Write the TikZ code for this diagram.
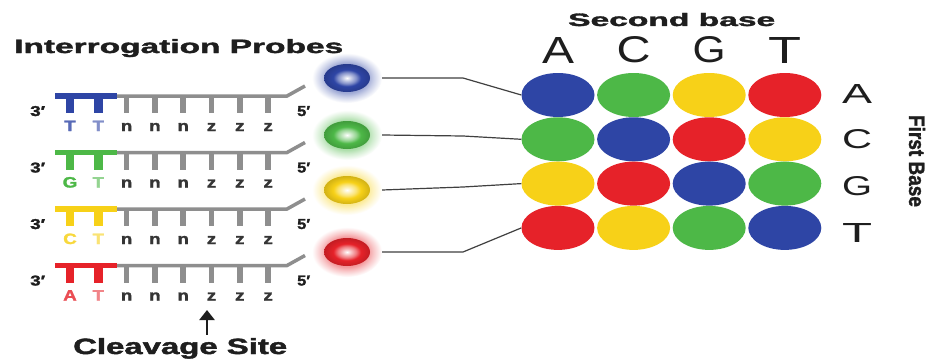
\documentclass[tikz,border=0pt]{standalone}
\usepackage{fontspec}
\setmainfont{Liberation Sans}
\newfontfamily\heavyfont{Liberation Sans}[UprightFeatures={FakeBold=1.6},BoldFeatures={FakeBold=1.6}]
\usepackage{graphicx}
\usetikzlibrary{shapes.geometric,arrows.meta}
\definecolor{cblue}{HTML}{2E45A5}
\definecolor{cgreen}{HTML}{4DB847}
\definecolor{cyellow}{HTML}{F7D118}
\definecolor{cred}{HTML}{E62229}
\definecolor{tgray}{HTML}{8E8E8E}
\definecolor{txt}{HTML}{1E1E1E}
\colorlet{glowcol}{cblue}
\pgfdeclareradialshading[glowcol]{glowshade}{\pgfpointorigin}{color(0bp)=(glowcol!60); color(15bp)=(glowcol!45); color(19bp)=(glowcol!25); color(23bp)=(glowcol!8); color(25bp)=(white); color(50bp)=(white)}
\pgfdeclareradialshading[glowcol]{coreshade}{\pgfpointorigin}{color(0bp)=(white); color(4bp)=(glowcol!25!white); color(10bp)=(glowcol!60!white); color(15bp)=(glowcol); color(25bp)=(glowcol!85!black); color(50bp)=(glowcol!85!black)}
\newcommand{\fitbox}[3]{\resizebox{#1}{#2}{#3}}
\newcommand{\pletter}[2]{\textcolor{#1}{\scalebox{1.25}[1]{\fontsize{15}{15}\selectfont\heavyfont\bfseries #2}}}
\begin{document}
\begin{tikzpicture}[x=1pt,y=-1pt,
  cell/.style={ellipse, minimum width=73pt, minimum height=44pt, inner sep=0pt},
  dotcore/.style={ellipse, minimum width=46pt, minimum height=28pt, inner sep=0pt},
  link/.style={draw=txt!85, line width=1.2pt},
  lbl/.style={inner sep=0pt, text=txt}]
\useasboundingbox[fill=white] (0,0) rectangle (936,361);

% glowing probe dots
\foreach \n/\y/\c in {1/78/cblue,2/135/cgreen,3/190/cyellow,4/252/cred}{
  \colorlet{glowcol}{\c}
  \shade[shading=glowshade] (347,\y) ellipse [x radius=35pt, y radius=25pt];
  \node[dotcore, shade, shading=coreshade] (d\n) at (347,\y) {};
}

% colour grid
\foreach \i/\j/\c in {1/1/cblue,1/2/cgreen,1/3/cyellow,1/4/cred,
                      2/1/cgreen,2/2/cblue,2/3/cred,2/4/cyellow,
                      3/1/cyellow,3/2/cred,3/3/cblue,3/4/cgreen,
                      4/1/cred,4/2/cyellow,4/3/cgreen,4/4/cblue}
  \node[cell, fill=\c] (g\i\j) at ({558+75.6*(\j-1)},{95+44.3*(\i-1)}) {};

% connectors
\coordinate (b1) at (463,78);
\coordinate (b2) at (463,136);
\coordinate (b3) at (463,187);
\coordinate (b4) at (463,252);
\draw[link] ([xshift=12pt]d1.east) -- (b1) -- (g11.west);
\draw[link] ([xshift=12pt]d2.east) -- (b2) -- (g21.west);
\draw[link] ([xshift=12pt]d3.east) -- (b3) -- (g31.west);
\draw[link] ([xshift=12pt]d4.east) -- (b4) -- (g41.west);

% probes
\foreach \r/\y/\c/\la/\ca/\cb in {1/96/cblue/T/cblue!80!white/cblue!60!white,
                                  2/152.5/cgreen/G/cgreen/cgreen!60!white,
                                  3/209/cyellow/C/cyellow!85!white/cyellow!60!white,
                                  4/265.5/cred/A/cred!80!white/cred!55!white}{
  \draw[tgray, line width=3.5pt] (115,\y) -- (287,\y) -- ({305},{\y-10});
  \draw[\c, line width=5.5pt] (55,\y) -- (117,\y);
  \foreach \x in {126.6,154.9,183.2,211.5,239.8,268.1}
    \draw[tgray, line width=5.5pt] (\x,\y) -- ({\x},{\y+17});
  \foreach \x in {70,98.3}
    \draw[\c, line width=8.5pt] (\x,\y) -- ({\x},{\y+17});
  \node[lbl, anchor=base] (pa\r) at ({70},{\y+35}) {\pletter{\ca}{\la}};
  \node[lbl, anchor=base] (pb\r) at ({98.3},{\y+35}) {\pletter{\cb}{T}};
  \foreach \k/\x/\s in {1/126.6/n,2/154.9/n,3/183.2/n,4/211.5/z,5/239.8/z,6/268.1/z}
    \node[lbl, anchor=base] (pn\r\k) at ({\x},{\y+35}) {\pletter{txt!90}{\s}};
  \node[lbl, anchor=base west] (tp\r) at ({30},{\y+20}) {\fitbox{15pt}{10pt}{\heavyfont\bfseries 3′}};
  \node[lbl, anchor=base west] (fp\r) at ({297},{\y+20}) {\fitbox{13pt}{10pt}{\heavyfont\bfseries 5′}};
}

% titles
\node[lbl, anchor=base west] (title1) at (14,53) {\fitbox{329pt}{14pt}{\heavyfont\bfseries Interrogation Probes}};
\node[lbl, anchor=base west] (title2) at (568,26) {\fitbox{207pt}{13pt}{\heavyfont\bfseries Second base}};
\node[lbl, anchor=base west] (cleave) at (73,354) {\fitbox{214pt}{16pt}{\heavyfont\bfseries Cleavage Site}};

% column headers
\foreach \j/\L/\w in {1/A/32,2/C/34,3/G/33,4/T/33}
  \node[lbl, anchor=base] (h\j) at ({558+75.6*(\j-1)},63) {\fitbox{\w pt}{26pt}{\L}};

% row labels
\foreach \i/\L/\b in {1/A/103,2/C/148,3/G/195,4/T/242}
  \node[lbl, anchor=base] (r\i) at (857,\b) {\fitbox{30pt}{19pt}{\L}};

\node[lbl, rotate=-90] (fb) at (917,161) {\fitbox{92pt}{16pt}{\heavyfont\bfseries First Base}};

% cleavage arrow
\coordinate (cs) at (207,310);
\draw[txt, line width=2.4pt, -{Triangle[width=15pt,length=10pt]}, shorten <=3pt] (cs |- cleave.north) -- (cs);
\end{tikzpicture}
\end{document}
